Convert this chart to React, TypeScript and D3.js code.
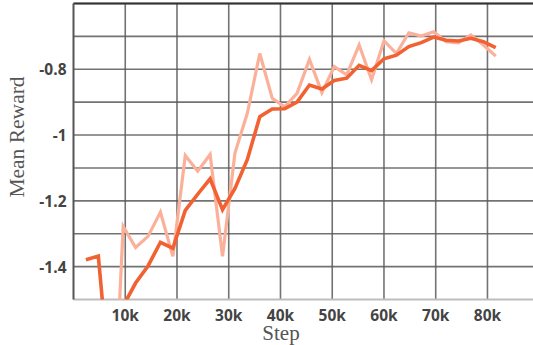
import React from "react";
import * as d3 from "d3";

const steps: number[] = Array.from({ length: 34 }, (_, i) => (i + 1) * 2400);

const rawReward: number[] = [
  -2.0, -2.1, -2.07, -1.278, -1.342, -1.308, -1.234, -1.369, -1.062, -1.11,
  -1.059, -1.369, -1.055, -0.933, -0.752, -0.888, -0.914, -0.873, -0.77, -0.871,
  -0.792, -0.817, -0.726, -0.832, -0.713, -0.752, -0.689, -0.699, -0.686, -0.716,
  -0.72, -0.696, -0.726, -0.76,
];

const smoothReward: number[] = [
  -1.379, -1.368, -1.785, -1.52, -1.45, -1.398, -1.326, -1.344, -1.229, -1.18,
  -1.133, -1.227, -1.162, -1.074, -0.944, -0.921, -0.92, -0.9, -0.848, -0.86,
  -0.834, -0.827, -0.788, -0.804, -0.768, -0.757, -0.731, -0.719, -0.702, -0.712,
  -0.714, -0.706, -0.716, -0.734,
];

const xTicks: number[] = [10000, 20000, 30000, 40000, 50000, 60000, 70000, 80000];
const xTickLabels: string[] = ["10k", "20k", "30k", "40k", "50k", "60k", "70k", "80k"];
const yGrid: number[] = [-1.4, -1.3, -1.2, -1.1, -1.0, -0.9, -0.8, -0.7, -0.6];
const yTicks: number[] = [-1.4, -1.2, -1.0, -0.8];
const yTickLabels: string[] = ["-1.4", "-1.2", "-1", "-0.8"];

const W = 533;
const H = 345;
const left = 73.5;
const right = 533;
const top = 3.5;
const bottom = 299.5;

export default function App() {
  const x = d3.scaleLinear().domain([0, 88800]).range([left, right]);
  const y = d3.scaleLinear().domain([-1.5, -0.6]).range([bottom, top]);

  const line = d3
    .line<number>()
    .x((_, i) => x(steps[i]))
    .y((d) => y(d));

  const gridColor = "#5a5a5a";
  const labelFont = "'Open Sans', sans-serif";

  return (
    <svg
      width={W}
      height={H}
      style={{ position: "absolute", left: 0, top: 0, background: "#fff" }}
    >
      <defs>
        <clipPath id="plot">
          <rect x={left} y={top} width={right - left} height={bottom - top} />
        </clipPath>
      </defs>
      {yGrid.map((v) => (
        <line
          key={"h" + v}
          x1={left}
          x2={right}
          y1={y(v)}
          y2={y(v)}
          stroke={gridColor}
          strokeWidth={1.6}
          strokeOpacity={0.85}
        />
      ))}
      {xTicks.map((v) => (
        <line
          key={"v" + v}
          x1={x(v)}
          x2={x(v)}
          y1={top}
          y2={bottom}
          stroke={gridColor}
          strokeWidth={1.6}
          strokeOpacity={0.85}
        />
      ))}
      <line x1={left} x2={right} y1={top} y2={top} stroke="#333" strokeWidth={2} />
      <line x1={left} x2={right} y1={bottom} y2={bottom} stroke="#bdbdbd" strokeWidth={2} />
      <line x1={left} x2={left} y1={top} y2={bottom} stroke="#555" strokeWidth={2} />
      <g clipPath="url(#plot)">
        <path
          d={line(rawReward) || ""}
          fill="none"
          stroke="#fbb09a"
          strokeWidth={3.2}
          strokeLinejoin="miter"
        />
        <path
          d={line(smoothReward) || ""}
          fill="none"
          stroke="#f26131"
          strokeWidth={3.6}
          strokeLinejoin="miter"
        />
      </g>
      {xTicks.map((v, i) => (
        <text
          key={"xl" + v}
          x={x(v)}
          y={320.5}
          textAnchor="middle"
          fontFamily={labelFont}
          fontWeight={700}
          fontSize={15.5}
          fill="#444"
        >
          {xTickLabels[i]}
        </text>
      ))}
      {yTicks.map((v, i) => (
        <text
          key={"yl" + v}
          x={66.5}
          y={y(v) + 6}
          textAnchor="end"
          fontFamily={labelFont}
          fontWeight={700}
          fontSize={15.5}
          fill="#444"
        >
          {yTickLabels[i]}
        </text>
      ))}
      <text
        transform="translate(24,137) rotate(-90)"
        textAnchor="middle"
        fontFamily="'Liberation Serif', serif"
        fontSize={21.5}
        fill="#555"
      >
        Mean Reward
      </text>
      <text
        x={281}
        y={340}
        textAnchor="middle"
        fontFamily="'Liberation Serif', serif"
        fontSize={21}
        fill="#555"
      >
        Step
      </text>
    </svg>
  );
}
